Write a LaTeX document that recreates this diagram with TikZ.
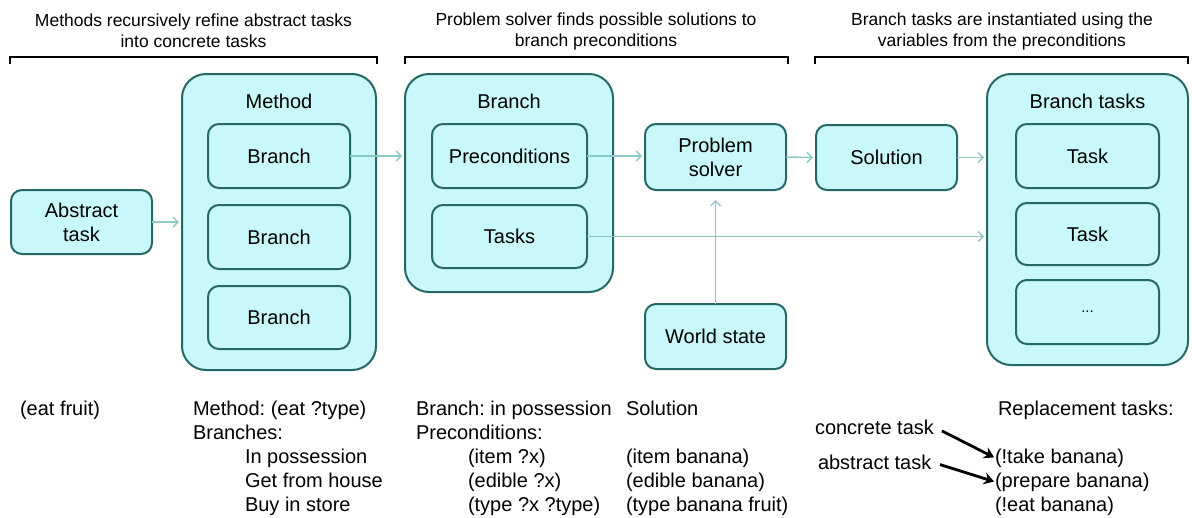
\documentclass[tikz,border=0pt]{standalone}
\usepackage{fontspec}
\setmainfont{Liberation Sans}
\usetikzlibrary{arrows.meta}
\frenchspacing

\definecolor{boxfill}{RGB}{200,248,250}
\definecolor{boxline}{RGB}{38,104,104}
\definecolor{flow}{RGB}{140,200,200}

\begin{document}
\begin{tikzpicture}[x=1pt,y=-1pt,
  every node/.style={inner sep=0pt, outer sep=0pt},
  outerbox/.style={draw=boxline, fill=boxfill, line width=2pt, rounded corners=24pt},
  innerbox/.style={draw=boxline, fill=boxfill, line width=2pt, rounded corners=11pt,
    align=center, font=\fontsize{20}{24}\selectfont},
  boxtitle/.style={font=\fontsize{20}{24}\selectfont},
  flowarrow/.style={draw=flow, line width=1.4pt, -{Straight Barb[length=5pt,width=10pt]}, shorten >=3pt},
  note/.style={font=\fontsize{17.5}{21}\selectfont, align=center},
  bracket/.style={line width=2.5pt},
  listtext/.style={anchor=base west, font=\fontsize{20}{24}\selectfont},
  pointer/.style={line width=2.8pt, -{Stealth[length=10pt,width=12pt]}}
]
\useasboundingbox (0,0) rectangle (1192,517);

% headings with their brackets
\node[note] (h1) at (193.5,31) {Methods recursively refine abstract tasks\\into concrete tasks};
\node[note] (h2) at (596,31) {Problem solver finds possible solutions to\\branch preconditions};
\node[note] (h3) at (1002,31) {Branch tasks are instantiated using the\\variables from the preconditions};
\draw[bracket] (10,64) -- (10,57) -- (377,57) -- (377,64);
\draw[bracket] (405,64) -- (405,57) -- (788,57) -- (788,64);
\draw[bracket] (815,64) -- (815,57) -- (1188,57) -- (1188,64);

% abstract task
\node[innerbox, minimum width=141pt, minimum height=64pt] (abs) at (81.5,222) {Abstract\\task};

% method with its branches
\node[outerbox, minimum width=194pt, minimum height=296pt] (method) at (279,222) {};
\node[boxtitle] (methodtitle) at (279,101) {Method};
\node[innerbox, minimum width=142pt, minimum height=64pt] (mb1) at (279,156) {Branch};
\node[innerbox, minimum width=142pt, minimum height=64pt] (mb2) at (279,237) {Branch};
\node[innerbox, minimum width=142pt, minimum height=63pt] (mb3) at (279,317.5) {Branch};

% selected branch
\node[outerbox, minimum width=208pt, minimum height=218pt] (branch) at (509,183) {};
\node[boxtitle] (branchtitle) at (509,101) {Branch};
\node[innerbox, minimum width=155pt, minimum height=64pt] (pre) at (509.5,156) {Preconditions};
\node[innerbox, minimum width=155pt, minimum height=63pt] (tasks) at (509.5,236.5) {Tasks};

% solver, world state, solution
\node[innerbox, minimum width=141pt, minimum height=66pt] (solver) at (715.5,157) {Problem\\solver};
\node[innerbox, minimum width=141pt, minimum height=65pt] (world) at (715.5,336.5) {World state};
\node[innerbox, minimum width=141pt, minimum height=65pt] (sol) at (886.5,157.5) {Solution};

% branch tasks
\node[outerbox, minimum width=201pt, minimum height=291pt] (bt) at (1087.5,219.5) {};
\node[boxtitle] (bttitle) at (1087.5,101) {Branch tasks};
\node[innerbox, minimum width=143pt, minimum height=64pt] (t1) at (1087.5,156) {Task};
\node[innerbox, minimum width=143pt, minimum height=62pt] (t2) at (1087.5,234) {Task};
\node[innerbox, minimum width=143pt, minimum height=64pt] (t3) at (1087.5,312) {\fontsize{15}{16}\selectfont ...};

% flow between the parts
\draw[flowarrow] (abs.east) -- (method.west);
\draw[flowarrow] (mb1.east) -- (mb1.east -| branch.west);
\draw[flowarrow] (pre.east) -- (pre.east -| solver.west);
\draw[flowarrow] (solver.east) -- (sol.west);
\draw[flowarrow] (sol.east) -- (sol.east -| bt.west);
\draw[flowarrow] (tasks.east) -- (tasks.east -| bt.west);
\draw[flowarrow, shorten >=10pt] (world.north) -- (solver.south);

% worked example
\node[listtext] (ex0) at (20,415) {(eat fruit)};

\node[listtext] (m0) at (193,415) {Method: (eat ?type)};
\node[listtext] (m1) at (193,439) {Branches:};
\node[listtext] (m2) at (245,463) {In possession};
\node[listtext] (m3) at (245,487) {Get from house};
\node[listtext] (m4) at (245,511) {Buy in store};

\node[listtext] (b0) at (416,415) {Branch: in possession};
\node[listtext] (b1) at (416,439) {Preconditions:};
\node[listtext] (b2) at (468,463) {(item ?x)};
\node[listtext] (b3) at (468,487) {(edible ?x)};
\node[listtext] (b4) at (468,511) {(type ?x ?type)};

\node[listtext] (s0) at (626,415) {Solution};
\node[listtext] (s2) at (626,463) {(item banana)};
\node[listtext] (s3) at (626,487) {(edible banana)};
\node[listtext] (s4) at (626,511) {(type banana fruit)};

\node[listtext] (r0) at (998,415) {Replacement tasks:};
\node[listtext] (r1) at (995,463) {(!take banana)};
\node[listtext] (r2) at (995,487) {(prepare banana)};
\node[listtext] (r3) at (995,511) {(!eat banana)};

\node[listtext] (conc) at (815,434) {concrete task};
\node[listtext] (abst) at (818,469) {abstract task};
\draw[pointer, shorten <=9pt, shorten >=1pt] (conc.east) -- (r1.west);
\draw[pointer, shorten <=9pt, shorten >=1pt] (abst.east) -- (r2.west);
\end{tikzpicture}
\end{document}
